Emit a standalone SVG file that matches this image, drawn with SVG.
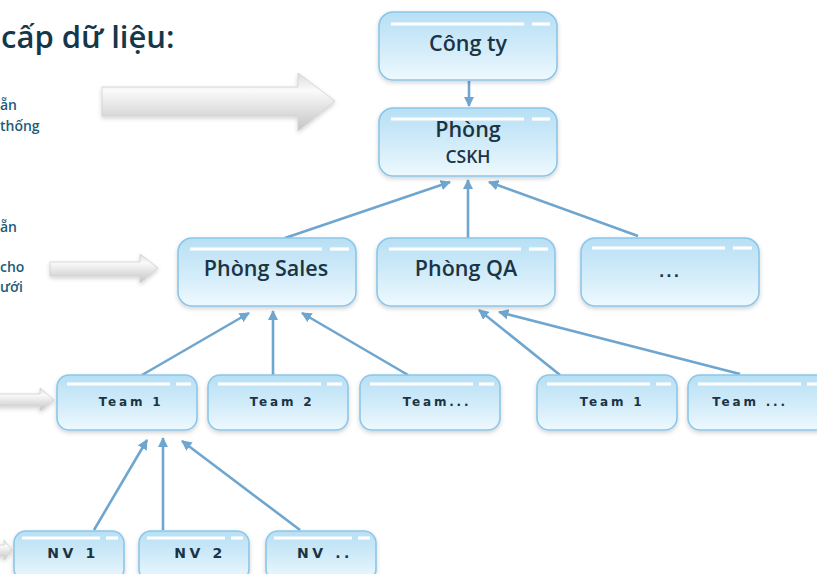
<svg xmlns="http://www.w3.org/2000/svg" width="817" height="574" viewBox="0 0 817 574">
<defs>
  <linearGradient id="nodeFill" x1="0" y1="0" x2="0" y2="1">
    <stop offset="0" stop-color="#b7dff4"/>
    <stop offset="0.5" stop-color="#d0ebf9"/>
    <stop offset="1" stop-color="#eef9fe"/>
  </linearGradient>
  <linearGradient id="grayFill" x1="0" y1="0" x2="0" y2="1">
    <stop offset="0" stop-color="#dcdcdc"/>
    <stop offset="0.3" stop-color="#fafafa"/>
    <stop offset="1" stop-color="#c4c4c4"/>
  </linearGradient>
  <filter id="shadow" x="-10%" y="-10%" width="120%" height="130%">
    <feDropShadow dx="0" dy="2" stdDeviation="2" flood-color="#000" flood-opacity="0.18"/>
  </filter>
  <marker id="ah" viewBox="0 0 10 10" refX="9" refY="5" markerWidth="4" markerHeight="4" orient="auto" markerUnits="strokeWidth">
    <path d="M0,0 L10,5 L0,10 z" fill="#6fa6cf"/>
  </marker>
  <style>
    .box { fill: url(#nodeFill); stroke: #8cc6e9; stroke-width: 1.6; filter: url(#shadow); }
    .hl { stroke: #ffffff; stroke-width: 3.2; stroke-linecap: butt; }
    .big { font-family: "Open Sans", "Liberation Sans", sans-serif; font-size: 21.5px; font-weight: 600; fill: #1b3444; text-anchor: middle; }
    .mid { font-family: "Open Sans", "Liberation Sans", sans-serif; font-size: 17.5px; font-weight: 600; fill: #1b3444; text-anchor: middle; }
    .team { font-family: "DejaVu Sans", "Liberation Sans", sans-serif; font-size: 12px; font-weight: bold; letter-spacing: 2.8px; fill: #1b3444; text-anchor: middle; }
    .nv { font-family: "DejaVu Sans", "Liberation Sans", sans-serif; font-size: 14px; font-weight: bold; letter-spacing: 3.6px; fill: #1b3444; text-anchor: middle; }
    .conn { stroke: #6fa6cf; stroke-width: 2.6; fill: none; marker-end: url(#ah); }
    .garrow { fill: url(#grayFill); stroke: #cfcfcf; stroke-width: 0.8; filter: url(#shadow); }
    .title { font-family: "Open Sans", "Liberation Sans", sans-serif; font-size: 31px; font-weight: 600; fill: #15374a; }
    .side { font-family: "Open Sans", "Liberation Sans", sans-serif; font-size: 14px; font-weight: 600; fill: #1d5c78; }
  </style>
</defs>

<rect width="817" height="574" fill="#ffffff"/>

<!-- left side text -->
<text class="title" x="1" y="48">cấp dữ liệu:</text>
<text class="side" x="0" y="110">ẵn</text>
<text class="side" x="0" y="131">thống</text>
<text class="side" x="0" y="232">ẵn</text>
<text class="side" x="0" y="272">cho</text>
<text class="side" x="0" y="292">ưới</text>

<!-- gray arrows -->
<g id="grayArrows">
  <polygon class="garrow" points="102,87 298,87 298,73 335,101 298,131 298,116 102,116"/>
  <polygon class="garrow" points="50,262 140,262 140,254 158,268 140,283 140,276 50,276"/>
  <polygon class="garrow" points="-2,394 40,394 40,388 54,400 40,411 40,406 -2,406"/>
  <polygon class="garrow" points="-2,545 4,545 4,540 12,550 4,560 4,556 -2,556"/>
</g>

<!-- connectors -->
<g id="connectors">
  <line class="conn" x1="469" y1="81" x2="469" y2="106"/>
  <line class="conn" x1="285" y1="238" x2="450" y2="182"/>
  <line class="conn" x1="468" y1="238" x2="468" y2="180"/>
  <line class="conn" x1="638" y1="236" x2="489" y2="182"/>
  <line class="conn" x1="142" y1="375" x2="249" y2="313"/>
  <line class="conn" x1="273" y1="375" x2="273" y2="311"/>
  <line class="conn" x1="408" y1="375" x2="302" y2="313"/>
  <line class="conn" x1="560" y1="375" x2="479" y2="310"/>
  <line class="conn" x1="740" y1="374" x2="499" y2="312"/>
  <line class="conn" x1="94" y1="530" x2="147" y2="440"/>
  <line class="conn" x1="163" y1="530" x2="163" y2="438"/>
  <line class="conn" x1="300" y1="530" x2="182" y2="441"/>
</g>

<!-- nodes -->
<g id="node-congty">
  <rect class="box" x="379" y="12" width="178" height="68" rx="14"/>
  <line class="hl" x1="391" y1="24" x2="524" y2="24"/><line class="hl" x1="532" y1="24" x2="550" y2="24"/>
  <text class="big" x="468" y="51">Công ty</text>
</g>
<g id="node-cskh">
  <rect class="box" x="379" y="108" width="178" height="68" rx="14"/>
  <line class="hl" x1="391" y1="119" x2="524" y2="119"/><line class="hl" x1="532" y1="119" x2="550" y2="119"/>
  <text class="big" x="468" y="137">Phòng</text>
  <text class="mid" x="468" y="163">CSKH</text>
</g>
<g id="node-sales">
  <rect class="box" x="178" y="238" width="178" height="68" rx="14"/>
  <line class="hl" x1="190" y1="249" x2="322" y2="249"/><line class="hl" x1="330" y1="249" x2="349" y2="249"/>
  <text class="big" x="266" y="276">Phòng Sales</text>
</g>
<g id="node-qa">
  <rect class="box" x="377" y="238" width="178" height="68" rx="14"/>
  <line class="hl" x1="389" y1="249" x2="521" y2="249"/><line class="hl" x1="529" y1="249" x2="548" y2="249"/>
  <text class="big" x="466" y="276">Phòng QA</text>
</g>
<g id="node-more">
  <rect class="box" x="581" y="238" width="178" height="68" rx="14"/>
  <line class="hl" x1="592" y1="248" x2="725" y2="248"/><line class="hl" x1="733" y1="248" x2="752" y2="248"/>
  <text class="team" x="670" y="277" style="font-size:14px;letter-spacing:2px">...</text>
</g>
<g id="node-team1">
  <rect class="box" x="57" y="375" width="140" height="55" rx="12"/>
  <line class="hl" x1="67" y1="384" x2="170" y2="384"/><line class="hl" x1="176" y1="384" x2="191" y2="384"/>
  <text class="team" x="131" y="406">Team 1</text>
</g>
<g id="node-team2">
  <rect class="box" x="208" y="375" width="140" height="55" rx="12"/>
  <line class="hl" x1="218" y1="384" x2="321" y2="384"/><line class="hl" x1="327" y1="384" x2="342" y2="384"/>
  <text class="team" x="282" y="406">Team 2</text>
</g>
<g id="node-team3">
  <rect class="box" x="360" y="375" width="140" height="55" rx="12"/>
  <line class="hl" x1="370" y1="384" x2="473" y2="384"/><line class="hl" x1="479" y1="384" x2="494" y2="384"/>
  <text class="team" x="437" y="406">Team...</text>
</g>
<g id="node-qateam1">
  <rect class="box" x="537" y="375" width="140" height="55" rx="12"/>
  <line class="hl" x1="547" y1="384" x2="650" y2="384"/><line class="hl" x1="656" y1="384" x2="671" y2="384"/>
  <text class="team" x="612" y="406">Team 1</text>
</g>
<g id="node-qateam2">
  <rect class="box" x="688" y="375" width="140" height="55" rx="12"/>
  <line class="hl" x1="698" y1="384" x2="801" y2="384"/><line class="hl" x1="807" y1="384" x2="822" y2="384"/>
  <text class="team" x="750" y="406">Team ...</text>
</g>
<g id="node-nv1">
  <rect class="box" x="14" y="531" width="110" height="50" rx="12"/>
  <line class="hl" x1="22" y1="538" x2="100" y2="538"/><line class="hl" x1="106" y1="538" x2="118" y2="538"/>
  <text class="nv" x="73" y="558">NV 1</text>
</g>
<g id="node-nv2">
  <rect class="box" x="139" y="531" width="110" height="50" rx="12"/>
  <line class="hl" x1="147" y1="538" x2="225" y2="538"/><line class="hl" x1="231" y1="538" x2="243" y2="538"/>
  <text class="nv" x="200" y="558">NV 2</text>
</g>
<g id="node-nv3">
  <rect class="box" x="266" y="531" width="110" height="50" rx="12"/>
  <line class="hl" x1="274" y1="538" x2="352" y2="538"/><line class="hl" x1="358" y1="538" x2="370" y2="538"/>
  <text class="nv" x="325" y="558">NV ..</text>
</g>
</svg>
